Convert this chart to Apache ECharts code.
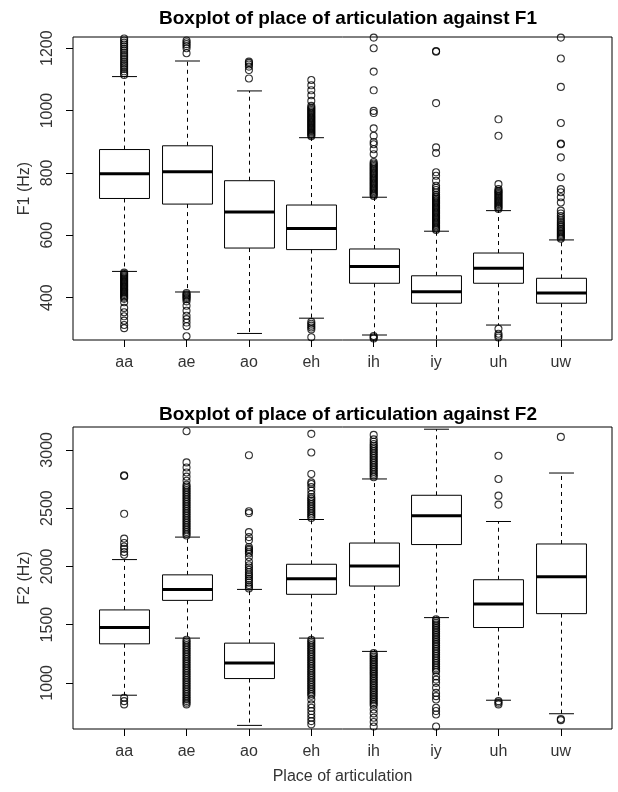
<!DOCTYPE html>
<html><head><meta charset="utf-8">
<script src="https://cdn.jsdelivr.net/npm/echarts@6/dist/echarts.min.js"></script>
<style>html,body{margin:0;padding:0;background:#fff}#c{width:618px;height:792px}</style>
</head><body><div id="c"></div><script>
const categories = ['aa','ae','ao','eh','ih','iy','uh','uw'];

// F1 box statistics (lower whisker, Q1, median, Q3, upper whisker)
const f1Low    = [484, 418, 285, 334, 280, 250, 312, 250];
const f1Q1     = [718, 700, 559, 554, 446, 382, 446, 382];
const f1Median = [797, 804, 675, 622, 500, 419, 494, 415];
const f1Q3     = [875, 887, 775, 697, 556, 470, 543, 462];
const f1High   = [1109, 1159, 1063, 913, 722, 613, 679, 585];
const f1Ticks  = [400, 600, 800, 1000, 1200];

// F1 outliers per category
const f1OutAa = [1114,1120,1126,1133,1140,1146,1152,1158,1165,1172,1178,1185,1192,1198,1205,1212,1218,1225,1231,
  480,476,472,468,464,460,456,452,448,444,440,436,432,428,424,420,416,412,408,404,400,396,
  385,367,353,340,326,312,302];
const f1OutAe = [1184,1200,1207,1213,1219,1225, 415,411,407,403,399,395,388,374,358,342,331,320,308,276];
const f1OutAo = [1103,1130,1141,1148,1153,1157];
const f1OutEh = [918,922,926,930,934,938,942,946,950,954,958,962,966,970,974,978,982,986,990,994,998,1002,1006,1010,1015,
  1031,1049,1065,1081,1098, 322,316,310,304,298,273];
const f1OutIh = [726,730,734,738,742,746,750,754,758,762,766,770,774,778,782,786,790,794,798,802,806,810,814,818,822,826,830,835,
  860,876,892,899,919,943,992,999,1065,1125,1200,1234, 277,273,269];
const f1OutIy = [617,621,625,629,633,637,641,645,649,653,657,661,665,669,673,677,681,685,689,693,697,701,705,709,713,717,721,725,730,
  738,745,752,759, 775,791,802,864,882,1024,1189,1191];
const f1OutUh = [684,688,692,696,700,704,708,712,716,720,724,728,732,736,740,743, 748,764,919,972, 300,284,278,272];
const f1OutUw = [589,593,597,601,605,609,613,617,621,626,631,636,642,648,655,662,670,679,
  705,722,738,748,786,850,892,894,960,1076,1167,1234];

// F2 box statistics
const f2Low    = [894, 1384, 635, 1384, 1270, 1560, 851, 735];
const f2Q1     = [1335, 1708, 1037, 1760, 1831, 2187, 1475, 1594];
const f2Median = [1475, 1802, 1171, 1893, 2004, 2434, 1677, 1910];
const f2Q3     = [1626, 1927, 1341, 2018, 2200, 2610, 1885, 2192];
const f2High   = [2058, 2251, 1802, 2402, 2750, 3177, 2385, 2801];
const f2Ticks  = [1000, 1500, 2000, 2500, 3000];

// F2 outliers per category
const f2OutAa = [2100,2123,2150,2170,2200,2238,2451,2775,2782, 872,843,815];
const f2OutAe = [2265,2280,2295,2310,2325,2340,2355,2370,2385,2400,2415,2430,2445,2460,2475,2490,2505,2520,2535,2550,
  2565,2580,2595,2610,2625,2640,2655,2670,2685,2700, 2735,2770,2806,2849,2892,3160,
  1370,1355,1340,1325,1310,1295,1280,1265,1250,1235,1220,1205,1190,1175,1160,1145,1130,1115,1100,1085,1070,1055,
  1040,1025,1010,995,980,965,950,935,920,905,890,875,860,845,830,815];
const f2OutAo = [1810,1825,1840,1860,1880,1895,1915,1930,1950,1970,1990,2010,2040,2080,2110,2125,2140,2150,2166,
  2223,2251,2294,2457,2473,2954];
const f2OutEh = [2415,2430,2445,2460,2475,2490,2505,2520,2535,2550,2565,2580,2595, 2620,2650,2680,2707,2721,2793,2977,3137,
  1370,1355,1340,1325,1310,1295,1280,1265,1250,1235,1220,1205,1190,1175,1160,1145,1130,1115,1100,1085,1070,1055,
  1040,1025,1010,995,980,965,950,935,920,905,890, 857,815,786,758,729,701,672,644];
const f2OutIh = [2765,2780,2795,2810,2825,2840,2855,2870,2885,2900,2915,2930,2945,2960,2975,2990,3005,3020,3035,3050,
  3070,3090,3128,
  1255,1240,1225,1210,1195,1180,1165,1150,1135,1120,1105,1090,1075,1060,1045,1030,1015,1000,985,970,955,940,925,
  910,895,880,865,850,835,820,805, 772,738,701,664,625];
const f2OutIy = [1545,1530,1515,1500,1485,1470,1455,1440,1425,1410,1395,1380,1365,1350,1335,1320,1305,1290,1275,1260,
  1245,1230,1215,1200,1185,1170,1155,1140,1125,1110,1095, 1056,1028,1000,957,914,886,857,786,758,729,625];
const f2OutUh = [2530,2607,2750,2949, 843,830,815];
const f2OutUw = [3111, 690,680];

const f1Outliers = [f1OutAa,f1OutAe,f1OutAo,f1OutEh,f1OutIh,f1OutIy,f1OutUh,f1OutUw];
const f2Outliers = [f2OutAa,f2OutAe,f2OutAo,f2OutEh,f2OutIh,f2OutIy,f2OutUh,f2OutUw];

const font = '"Liberation Sans", Arial, sans-serif';
const positions = categories.map((c, i) => i + 1);

function boxData(lo, q1, md, q3, hi) {
  return categories.map((c, i) => [i + 1, lo[i], q1[i], md[i], q3[i], hi[i]]);
}
function outData(lists) {
  const out = [];
  lists.forEach((arr, i) => arr.forEach(v => out.push([i + 1, v])));
  return out;
}
function renderBox(params, api) {
  const x = api.value(0);
  const lo = api.coord([x, api.value(1)]);
  const q1 = api.coord([x, api.value(2)]);
  const md = api.coord([x, api.value(3)]);
  const q3 = api.coord([x, api.value(4)]);
  const hi = api.coord([x, api.value(5)]);
  const bw = api.size([0.8, 0])[0];
  const cx = Math.round(lo[0]) + 0.5;
  const half = bw / 2, cap = bw / 4;
  const solid = {stroke: '#000', lineWidth: 1};
  const dash = {stroke: '#000', lineWidth: 1, lineDash: [4, 4]};
  return {type: 'group', children: [
    {type: 'line', shape: {x1: cx, y1: q3[1], x2: cx, y2: hi[1]}, style: dash},
    {type: 'line', shape: {x1: cx, y1: q1[1], x2: cx, y2: lo[1]}, style: dash},
    {type: 'line', shape: {x1: cx - cap, y1: hi[1], x2: cx + cap, y2: hi[1]}, style: solid},
    {type: 'line', shape: {x1: cx - cap, y1: lo[1], x2: cx + cap, y2: lo[1]}, style: solid},
    {type: 'rect', shape: {x: cx - half, y: q3[1], width: bw, height: q1[1] - q3[1]},
      style: {fill: '#fff', stroke: '#000', lineWidth: 1}},
    {type: 'line', shape: {x1: cx - half, y1: md[1], x2: cx + half, y2: md[1]}, style: {stroke: '#000', lineWidth: 3}}
  ]};
}

function xAxisCfg(gi, name) {
  return {
    type: 'value', gridIndex: gi, min: 0.18, max: 8.82,
    axisLine: {show: false}, splitLine: {show: false},
    axisTick: {show: true, customValues: positions, length: 7, lineStyle: {color: '#000', width: 1}},
    axisLabel: {customValues: positions, formatter: v => categories[Math.round(v) - 1],
      margin: 15, fontSize: 16, color: '#333', fontFamily: font},
    name: name, nameLocation: 'middle', nameGap: 40,
    nameTextStyle: {fontSize: 16, color: '#333', fontFamily: font}
  };
}
function yAxisCfg(gi, min, max, ticks, name) {
  return {
    type: 'value', gridIndex: gi, min: min, max: max,
    axisLine: {show: false}, splitLine: {show: false},
    axisTick: {show: true, customValues: ticks, length: 7, lineStyle: {color: '#000', width: 1}},
    axisLabel: {customValues: ticks, rotate: 90, margin: 17, fontSize: 16, color: '#333', fontFamily: font,
      formatter: v => String(v)},
    name: name, nameLocation: 'middle', nameGap: 40, nameRotate: 90,
    nameTextStyle: {fontSize: 16, color: '#333', fontFamily: font}
  };
}
const outStyle = {color: 'rgba(0,0,0,0)', borderColor: '#000', borderWidth: 1.1};

const chart = echarts.init(document.getElementById('c'), null, {renderer: 'canvas'});
chart.setOption({
  animation: false,
  backgroundColor: '#fff',
  title: [
    {text: 'Boxplot of place of articulation against F1', left: 343, top: 4, textAlign: 'center',
      textStyle: {fontSize: 19, fontWeight: 'bold', color: '#000', fontFamily: font}},
    {text: 'Boxplot of place of articulation against F2', left: 343, top: 400, textAlign: 'center',
      textStyle: {fontSize: 19, fontWeight: 'bold', color: '#000', fontFamily: font}}
  ],
  grid: [
    {left: 73, top: 37, width: 539, height: 303, show: true, borderColor: '#000', borderWidth: 1, backgroundColor: 'transparent'},
    {left: 73, top: 427, width: 539, height: 302, show: true, borderColor: '#000', borderWidth: 1, backgroundColor: 'transparent'}
  ],
  xAxis: [xAxisCfg(0, ''), xAxisCfg(1, 'Place of articulation')],
  yAxis: [yAxisCfg(0, 264, 1236, f1Ticks, 'F1 (Hz)'), yAxisCfg(1, 604, 3196, f2Ticks, 'F2 (Hz)')],
  series: [
    {type: 'custom', xAxisIndex: 0, yAxisIndex: 0, clip: true, renderItem: renderBox,
      encode: {x: 0, y: [1, 2, 3, 4, 5]}, data: boxData(f1Low, f1Q1, f1Median, f1Q3, f1High), silent: true},
    {type: 'scatter', xAxisIndex: 0, yAxisIndex: 0, clip: true, symbol: 'circle', symbolSize: 7,
      itemStyle: outStyle, data: outData(f1Outliers), silent: true, z: 3},
    {type: 'custom', xAxisIndex: 1, yAxisIndex: 1, clip: true, renderItem: renderBox,
      encode: {x: 0, y: [1, 2, 3, 4, 5]}, data: boxData(f2Low, f2Q1, f2Median, f2Q3, f2High), silent: true},
    {type: 'scatter', xAxisIndex: 1, yAxisIndex: 1, clip: true, symbol: 'circle', symbolSize: 7,
      itemStyle: outStyle, data: outData(f2Outliers), silent: true, z: 3}
  ]
});
</script></body></html>
